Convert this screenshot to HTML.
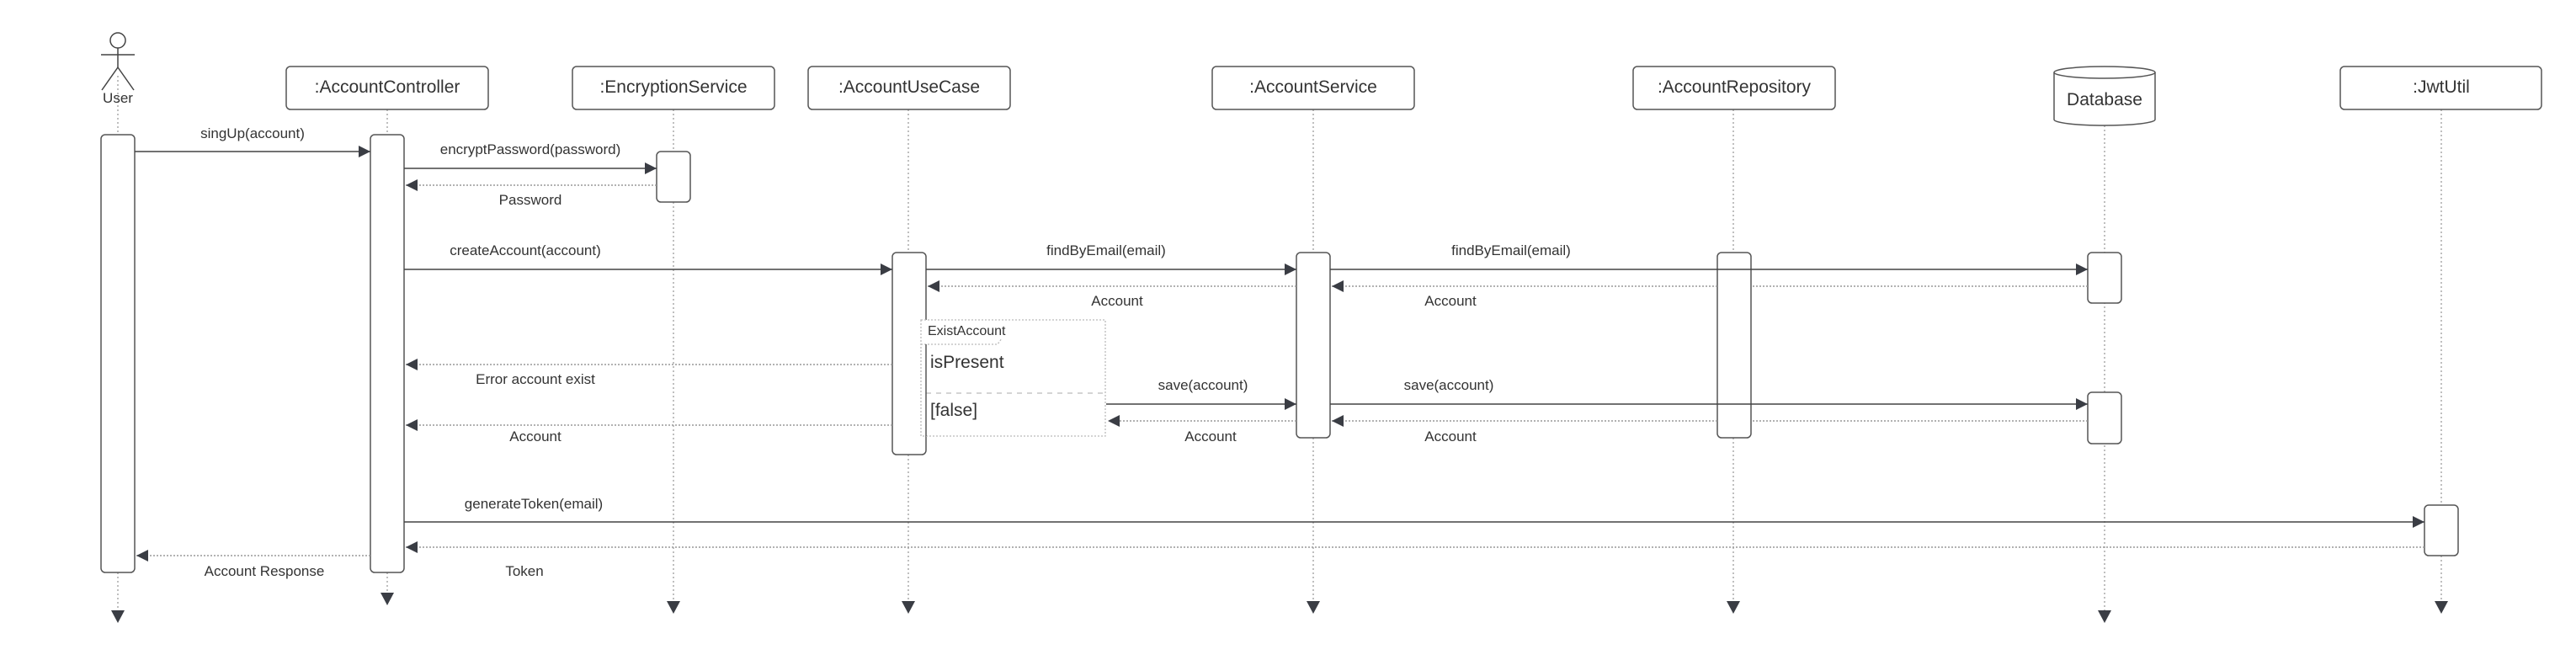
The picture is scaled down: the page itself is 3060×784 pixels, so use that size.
<!DOCTYPE html>
<html><head><meta charset="utf-8"><style>
html,body{margin:0;padding:0;background:#fff;}
svg text{font-family:"Liberation Sans",sans-serif;fill:#333;}
</style></head><body>
<svg width="3060" height="779" viewBox="0 0 3060 779" xmlns="http://www.w3.org/2000/svg">
<defs>
<marker id="a" markerWidth="14" markerHeight="14" refX="14" refY="7" orient="auto" markerUnits="userSpaceOnUse"><path d="M0,0 L14,7 L0,14 Z" fill="#3a3d44"/></marker>
</defs>
<g stroke="#aaa" stroke-width="1.5" stroke-dasharray="2,3" fill="none">
<line x1="140" y1="90" x2="140" y2="728"/>
<line x1="460" y1="130" x2="460" y2="708"/>
<line x1="800" y1="130" x2="800" y2="718"/>
<line x1="1079" y1="130" x2="1079" y2="718"/>
<line x1="1560" y1="130" x2="1560" y2="718"/>
<line x1="2059" y1="130" x2="2059" y2="718"/>
<line x1="2500" y1="149" x2="2500" y2="728"/>
<line x1="2900" y1="130" x2="2900" y2="718"/>
</g>
<g fill="#3a3d44">
<path d="M132,725 L148,725 L140,740 Z"/>
<path d="M452,704 L468,704 L460,719 Z"/>
<path d="M792,714 L808,714 L800,729 Z"/>
<path d="M1071,714 L1087,714 L1079,729 Z"/>
<path d="M1552,714 L1568,714 L1560,729 Z"/>
<path d="M2051,714 L2067,714 L2059,729 Z"/>
<path d="M2492,725 L2508,725 L2500,740 Z"/>
<path d="M2892,714 L2908,714 L2900,729 Z"/>
</g>
<!-- actor -->
<g stroke="#444" stroke-width="1.5" fill="#fff">
<circle cx="140" cy="48" r="9"/>
<line x1="140" y1="57" x2="140" y2="80"/>
<line x1="120" y1="65" x2="160" y2="65"/>
<line x1="140" y1="80" x2="121" y2="107"/>
<line x1="140" y1="80" x2="159" y2="107"/>
</g>
<text x="140" y="122" font-size="17" text-anchor="middle">User</text>
<!-- heads -->
<g stroke="#555" stroke-width="1.5" fill="#fff">
<rect x="340" y="79" width="240" height="51" rx="5"/>
<rect x="680" y="79" width="240" height="51" rx="5"/>
<rect x="960" y="79" width="240" height="51" rx="5"/>
<rect x="1440" y="79" width="240" height="51" rx="5"/>
<rect x="1940" y="79" width="240" height="51" rx="5"/>
<rect x="2780" y="79" width="239" height="51" rx="5"/>
<path d="M2440,86 L2440,142 A60,7 0 0 0 2560,142 L2560,86"/>
<ellipse cx="2500" cy="86" rx="60" ry="7"/>
</g>
<g font-size="21" text-anchor="middle">
<text x="460" y="110">:AccountController</text>
<text x="800" y="110">:EncryptionService</text>
<text x="1080" y="110">:AccountUseCase</text>
<text x="1560" y="110">:AccountService</text>
<text x="2060" y="110">:AccountRepository</text>
<text x="2500" y="125">Database</text>
<text x="2900" y="110">:JwtUtil</text>
</g>
<!-- activations -->
<g stroke="#555" stroke-width="1.5" fill="#fff">
<rect x="120" y="160" width="40" height="520" rx="5"/>
<rect x="440" y="160" width="40" height="520" rx="5"/>
<rect x="780" y="180" width="40" height="60" rx="5"/>
<rect x="1060" y="300" width="40" height="240" rx="5"/>
<rect x="1540" y="300" width="40" height="220" rx="5"/>
<rect x="2040" y="300" width="40" height="220" rx="5"/>
<rect x="2480" y="300" width="40" height="60" rx="5"/>
<rect x="2480" y="466" width="40" height="61" rx="5"/>
<rect x="2880" y="600" width="40" height="60" rx="5"/>
</g>
<!-- frame -->
<g stroke="#bbb" stroke-width="1.3" stroke-dasharray="2,2" fill="none">
<rect x="1094" y="380" width="219" height="138" fill="#fff" stroke-dasharray="2,2"/>
<path d="M1094,409 L1185,409 L1190,402"/>
<line x1="1100" y1="467" x2="1313" y2="467" stroke-dasharray="6,6"/>
</g>
<line x1="1100" y1="409" x2="1100" y2="518" stroke="#555" stroke-width="1.5"/>
<text x="1102" y="398" font-size="16">ExistAccount</text>
<text x="1105" y="437" font-size="21">isPresent</text>
<text x="1105" y="494" font-size="21">[false]</text>
<!-- sync messages -->
<g stroke="#444" stroke-width="1.5" fill="none" marker-end="url(#a)">
<line x1="160" y1="180" x2="440" y2="180"/>
<line x1="480" y1="200" x2="780" y2="200"/>
<line x1="480" y1="320" x2="1060" y2="320"/>
<line x1="1100" y1="320" x2="1540" y2="320"/>
<line x1="1580" y1="320" x2="2480" y2="320"/>
<line x1="1314" y1="480" x2="1540" y2="480"/>
<line x1="1580" y1="480" x2="2480" y2="480"/>
<line x1="480" y1="620" x2="2880" y2="620"/>
</g>
<!-- returns -->
<g stroke="#999" stroke-width="1.5" stroke-dasharray="2,2" fill="none">
<line x1="780" y1="220" x2="482" y2="220" marker-end="url(#a)"/>
<line x1="1540" y1="340" x2="1102" y2="340" marker-end="url(#a)"/>
<line x1="2040" y1="340" x2="1582" y2="340" marker-end="url(#a)"/>
<line x1="2480" y1="340" x2="2080" y2="340"/>
<line x1="1060" y1="433" x2="482" y2="433" marker-end="url(#a)"/>
<line x1="1060" y1="505" x2="482" y2="505" marker-end="url(#a)"/>
<line x1="1540" y1="500" x2="1316" y2="500" marker-end="url(#a)"/>
<line x1="2040" y1="500" x2="1582" y2="500" marker-end="url(#a)"/>
<line x1="2480" y1="500" x2="2080" y2="500"/>
<line x1="2880" y1="650" x2="482" y2="650" marker-end="url(#a)"/>
<line x1="440" y1="660" x2="162" y2="660" marker-end="url(#a)"/>
</g>
<g font-size="17" text-anchor="middle">
<text x="300" y="164">singUp(account)</text>
<text x="630" y="183">encryptPassword(password)</text>
<text x="630" y="243">Password</text>
<text x="624" y="303">createAccount(account)</text>
<text x="1314" y="303">findByEmail(email)</text>
<text x="1327" y="363">Account</text>
<text x="1795" y="303">findByEmail(email)</text>
<text x="1723" y="363">Account</text>
<text x="636" y="456">Error account exist</text>
<text x="636" y="524">Account</text>
<text x="1429" y="463">save(account)</text>
<text x="1438" y="524">Account</text>
<text x="1721" y="463">save(account)</text>
<text x="1723" y="524">Account</text>
<text x="634" y="604">generateToken(email)</text>
<text x="623" y="684">Token</text>
<text x="314" y="684">Account Response</text>
</g>
</svg>
</body></html>
